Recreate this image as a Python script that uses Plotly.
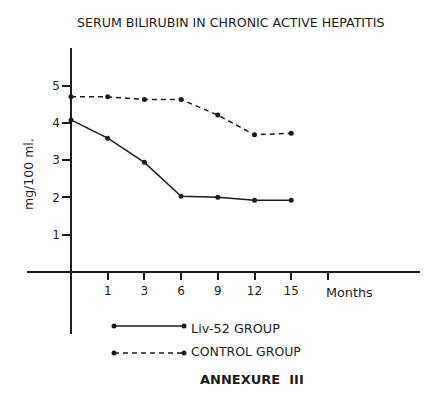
import plotly.graph_objects as go

months = [0, 1, 3, 6, 9, 12, 15]
liv52 = [4.08, 3.59, 2.94, 2.03, 2.00, 1.92, 1.92]
control = [4.70, 4.70, 4.63, 4.63, 4.21, 3.68, 3.72]
month_labels = ["1", "3", "6", "9", "12", "15", ""]
y_ticks = [1, 2, 3, 4, 5]

# page body has an 8px margin; work in reference-pixel coordinates and offset
OFF = 8
W, H = 428 - OFF, 397 - OFF
L, T = 27 - OFF, 48 - OFF
R = 0
B = H - (334 - OFF)
PW, PH = W - L - R, H - T - B
INK = "#1c1c1c"
FONT = "DejaVu Sans"

def px(x):
    return (x - OFF - L) / PW

def py(y):
    return (H - B - (y - OFF)) / PH

xi = list(range(len(months)))

fig = go.Figure()
fig.add_trace(go.Scatter(x=xi, y=liv52, mode="lines+markers",
                         line=dict(color=INK, width=1.5),
                         marker=dict(size=5, color=INK), showlegend=False))
fig.add_trace(go.Scatter(x=xi, y=control, mode="lines+markers",
                         line=dict(color=INK, width=1.5, dash="5px,4px"),
                         marker=dict(size=5, color=INK), showlegend=False))

shapes = []
for yy, dash in [(326, "solid"), (353, "5px,4px")]:
    shapes.append(dict(type="line", xref="paper", yref="paper",
                       x0=px(114), x1=px(184), y0=py(yy), y1=py(yy),
                       line=dict(color=INK, width=1.5, dash=dash)))
    for xx in (114, 184):
        shapes.append(dict(type="circle", xref="paper", yref="paper",
                           xsizemode="pixel", ysizemode="pixel",
                           xanchor=px(xx), yanchor=py(yy),
                           x0=-2.5, x1=2.5, y0=-2.5, y1=2.5,
                           fillcolor=INK, line=dict(width=0)))

annotations = [
    dict(text="SERUM BILIRUBIN IN CHRONIC ACTIVE HEPATITIS", xref="paper", yref="paper",
         x=px(231), y=py(22), showarrow=False, xanchor="center", yanchor="middle",
         font=dict(size=12.6, color=INK, family=FONT)),
    dict(text="mg/100 ml.", xref="paper", yref="paper", x=px(28), y=py(174),
         textangle=-90, showarrow=False, xanchor="center", yanchor="middle",
         font=dict(size=12.5, color=INK, family=FONT)),
    dict(text="Months", xref="paper", yref="paper", x=px(324), y=py(292),
         showarrow=False, xanchor="left", yanchor="middle",
         font=dict(size=12.8, color=INK, family=FONT)),
    dict(text="Liv-52 GROUP", xref="paper", yref="paper", x=px(189), y=py(328),
         showarrow=False, xanchor="left", yanchor="middle",
         font=dict(size=12.8, color=INK, family=FONT)),
    dict(text="CONTROL GROUP", xref="paper", yref="paper", x=px(189), y=py(351),
         showarrow=False, xanchor="left", yanchor="middle",
         font=dict(size=12.5, color=INK, family=FONT)),
    dict(text="<b>ANNEXURE  III</b>", xref="paper", yref="paper", x=px(198), y=py(379),
         showarrow=False, xanchor="left", yanchor="middle",
         font=dict(size=13, color=INK, family=FONT)),
]

x0_px, dx_px = 71, 36.7
y0_px, dy_px = 271.7, 37.2
left_px, right_px, top_px, bot_px = 27, 428, 48, 334

fig.update_layout(
    width=W, height=H, margin=dict(l=L, r=R, t=T, b=B, pad=0),
    paper_bgcolor="white", plot_bgcolor="white",
    shapes=shapes, annotations=annotations, showlegend=False,
    font=dict(family=FONT, color=INK, size=12),
    xaxis=dict(range=[(left_px - x0_px) / dx_px, (right_px - x0_px) / dx_px],
               tickvals=xi[1:] + [len(months)], ticktext=month_labels,
               ticks="outside", ticklen=8, tickwidth=1.5, tickcolor=INK,
               showline=True, linecolor=INK, linewidth=1.5,
               showgrid=False, zeroline=False, anchor="free",
               position=(bot_px - y0_px) / PH, fixedrange=True,
               tickfont=dict(size=12)),
    yaxis=dict(range=[(y0_px - bot_px) / dy_px, (y0_px - top_px) / dy_px],
               tickvals=y_ticks, ticks="outside", ticklen=8, tickwidth=1.5,
               tickcolor=INK, showline=True, linecolor=INK, linewidth=1.5,
               showgrid=False, zeroline=False, anchor="free",
               position=(x0_px - left_px) / PW, fixedrange=True,
               tickfont=dict(size=12)),
)

fig.write_html("out.html")
